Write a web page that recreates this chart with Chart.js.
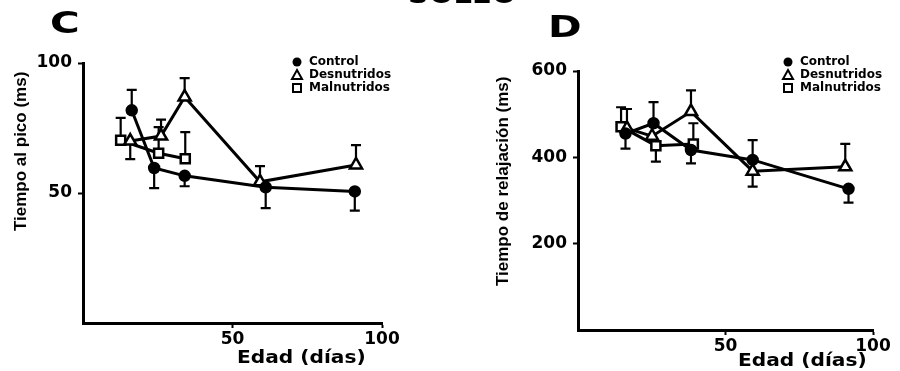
<!DOCTYPE html>
<html lang="es">
<head>
<meta charset="UTF-8">
<title>Sóleo - Tiempo al pico y relajación</title>
<script src="https://cdn.jsdelivr.net/npm/chart.js"></script>
<style>
  body { margin: 0; background: #fff; }
  #wrap { position: relative; width: 900px; height: 371px; overflow: hidden; background: #fff; }
  canvas { position: absolute; top: 0; }
  .lbl { position: absolute; color: #000; font-weight: bold; white-space: nowrap; line-height: 1; }
  .panel { font-family: "DejaVu Sans", sans-serif; font-size: 30px; transform-origin: left top; transform: scaleX(1.35); }
  .xt { font-family: "DejaVu Sans", sans-serif; font-size: 18px; transform-origin: left top; transform: scaleX(1.12); }
  .yt { font-family: "Liberation Sans", Arial, sans-serif; font-size: 17px; transform-origin: left top; transform: rotate(-90deg); }
</style>
</head>
<body>
<div id="wrap">
  <canvas id="chartC" width="450" height="371" style="left:0"></canvas>
  <canvas id="chartD" width="450" height="371" style="left:450px"></canvas>

  <div class="lbl panel" style="left:408px; top:-21px; font-size:29px; transform:none">SOLEO</div>
  <div class="lbl panel" style="left:50px; top:8px">C</div>
  <div class="lbl panel" style="left:548px; top:12px">D</div>

  <div class="lbl yt" style="left:12px; top:231px">Tiempo al pico (ms)</div>
  <div class="lbl yt" style="left:494px; top:286px">Tiempo de relajación (ms)</div>
  <div class="lbl xt" style="left:237px; top:348px">Edad (días)</div>
  <div class="lbl xt" style="left:738px; top:351px">Edad (días)</div>
</div>

<script>
  // ---- Panel C : tiempo al pico (ms) ----
  const edadControlC = [16.3, 23.8, 34.0, 61.1, 90.9];
  const controlC     = [81.8, 59.6, 56.6, 52.2, 50.6];
  const controlUpC   = [7.9, 0, 0, 0, 0];
  const controlDownC = [0, 7.7, 4.0, 8.0, 7.4];

  const edadDesnC    = [15.8, 26.1, 34.0, 59.2, 91.3];
  const desnC        = [70.0, 71.9, 86.9, 54.3, 60.8];
  const desnUpC      = [0, 6.3, 7.3, 6.0, 7.6];
  const desnDownC    = [7.0, 0, 0, 0, 0];

  const edadMalC     = [12.6, 25.3, 34.2];
  const malC         = [70.3, 65.3, 63.2];
  const malUpC       = [8.6, 10.0, 10.2];
  const malDownC     = [0, 0, 0];

  // ---- Panel D : tiempo de relajación (ms) ----
  const edadControlD = [16.1, 25.6, 38.3, 59.2, 91.7];
  const controlD     = [455, 479, 417, 394, 327];
  const controlUpD   = [0, 49, 0, 46, 0];
  const controlDownD = [35, 0, 31, 0, 32];

  const edadDesnD    = [16.6, 25.1, 38.3, 59.2, 90.6];
  const desnD        = [467, 449, 506, 368, 378];
  const desnUpD      = [45, 0, 49, 0, 53];
  const desnDownD    = [0, 0, 0, 36, 0];

  const edadMalD     = [14.6, 26.4, 39.1];
  const malD         = [471, 427, 431];
  const malUpD       = [45, 0, 48];
  const malDownD     = [0, 37, 0];

  const xTicks  = [50, 100];
  const yTicksC = [50, 100];
  const yTicksD = [200, 400, 600];
  const seriesNames = ["Control", "Desnutridos", "Malnutridos"];

  const pts = (xs, ys) => xs.map((x, i) => ({ x: x, y: ys[i] }));

  // barras de error (un solo lado, como en la figura)
  const errorBars = {
    id: "errorBars",
    beforeDatasetsDraw(chart) {
      const ctx = chart.ctx;
      const xs = chart.scales.x, ys = chart.scales.y;
      ctx.save();
      ctx.strokeStyle = "#000";
      ctx.lineWidth = 2.2;
      chart.data.datasets.forEach(ds => {
        ds.data.forEach((p, i) => {
          const px = xs.getPixelForValue(p.x);
          const py = ys.getPixelForValue(p.y);
          [ds.errUp[i], -ds.errDown[i]].forEach(e => {
            if (!e) return;
            const pe = ys.getPixelForValue(p.y + e);
            ctx.beginPath();
            ctx.moveTo(px, py);
            ctx.lineTo(px, pe);
            ctx.moveTo(px - 5, pe);
            ctx.lineTo(px + 5, pe);
            ctx.stroke();
          });
        });
      });
      ctx.restore();
    }
  };

  // leyenda dibujada dentro del área
  const insideLegend = {
    id: "insideLegend",
    afterDraw(chart, args, opts) {
      const ctx = chart.ctx;
      ctx.save();
      ctx.font = "bold 12px 'DejaVu Sans', sans-serif";
      ctx.textBaseline = "middle";
      ctx.fillStyle = "#000";
      ctx.strokeStyle = "#000";
      ctx.lineWidth = 2;
      chart.data.datasets.forEach((ds, i) => {
        const x = opts.x, y = opts.y + i * opts.step;
        ctx.beginPath();
        if (ds.pointStyle === "circle") {
          ctx.arc(x, y, 4.5, 0, Math.PI * 2);
          ctx.fill();
        } else if (ds.pointStyle === "triangle") {
          ctx.moveTo(x, y - 5);
          ctx.lineTo(x + 5, y + 4);
          ctx.lineTo(x - 5, y + 4);
          ctx.closePath();
          ctx.stroke();
        } else {
          ctx.rect(x - 4, y - 4, 8, 8);
          ctx.stroke();
        }
        ctx.fillText(ds.label, x + 12, y);
      });
      ctx.restore();
    }
  };

  function makeSet(name, xs, ys, up, down, style, radius) {
    return {
      label: name,
      data: pts(xs, ys),
      errUp: up,
      errDown: down,
      showLine: true,
      borderColor: "#000",
      borderWidth: 3,
      pointStyle: style,
      pointRadius: radius,
      pointBorderWidth: 2.5,
      pointBorderColor: "#000",
      pointBackgroundColor: style === "circle" ? "#000" : "#fff",
      tension: 0,
      clip: false
    };
  }

  function axisCommon(tickVals, fitFn) {
    return {
      type: "linear",
      afterBuildTicks: s => { s.ticks = tickVals.map(v => ({ value: v })); },
      afterFit: fitFn,
      ticks: { color: "#000", font: { family: "'DejaVu Sans', sans-serif", size: 17, weight: "bold" }, padding: 1 },
      grid: { display: true, drawOnChartArea: false, drawTicks: true, tickLength: 5, tickWidth: 2, color: "#000" },
      border: { display: true, color: "#000", width: 3 }
    };
  }

  function makeChart(id, sets, yMax, yTicks, pad, yWidth, xHeight, legendX) {
    const x = axisCommon(xTicks, s => { s.height = xHeight; });
    x.min = 0; x.max = 100;
    const y = axisCommon(yTicks, s => { s.width = yWidth; });
    y.min = 0; y.max = yMax;
    y.ticks.padding = 6;
    return new Chart(document.getElementById(id), {
      type: "scatter",
      data: { datasets: sets },
      options: {
        responsive: false,
        animation: false,
        layout: { padding: pad },
        plugins: {
          legend: { display: false },
          tooltip: { enabled: false },
          insideLegend: { x: legendX, y: 62, step: 13 }
        },
        scales: { x: x, y: y }
      },
      plugins: [errorBars, insideLegend]
    });
  }

  makeChart("chartC", [
    makeSet(seriesNames[0], edadControlC, controlC, controlUpC, controlDownC, "circle", 5),
    makeSet(seriesNames[1], edadDesnC, desnC, desnUpC, desnDownC, "triangle", 7),
    makeSet(seriesNames[2], edadMalC, malC, malUpC, malDownC, "rect", 6.4)
  ], 100, yTicksC, { left: 0, right: 68, top: 63, bottom: 0 }, 83, 48, 297);

  makeChart("chartD", [
    makeSet(seriesNames[0], edadControlD, controlD, controlUpD, controlDownD, "circle", 5),
    makeSet(seriesNames[1], edadDesnD, desnD, desnUpD, desnDownD, "triangle", 7),
    makeSet(seriesNames[2], edadMalD, malD, malUpD, malDownD, "rect", 6.4)
  ], 600, yTicksD, { left: 0, right: 27, top: 71, bottom: 0 }, 128, 41, 338);
</script>
</body>
</html>
